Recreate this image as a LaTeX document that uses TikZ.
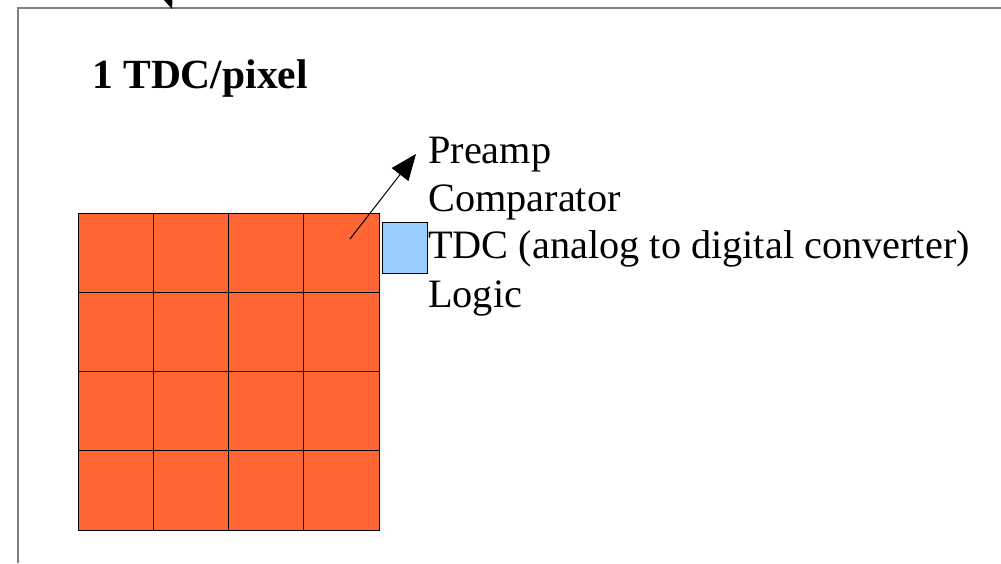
\documentclass[tikz,border=0pt]{standalone}
\usepackage{fontspec}
\setmainfont{Liberation Serif}
\usetikzlibrary{positioning, arrows.meta}
\definecolor{cellorange}{RGB}{255,102,51}
\definecolor{chipblue}{RGB}{153,204,255}
\definecolor{framegray}{RGB}{128,128,128}

\begin{document}
\begin{tikzpicture}[
        x=1pt, y=-1pt,
        cell/.style={draw=black, fill=cellorange, line width=1pt, inner sep=0pt, outer sep=0pt, minimum width=75.25pt, minimum height=79.25pt},
        chip/.style={draw=black, fill=chipblue, line width=1pt, inner sep=0pt, minimum width=45pt, minimum height=51pt},
        itemtext/.style={inner sep=0pt, anchor=base west, font=\fontsize{40.3}{48}\selectfont},
        arrow/.style={-{Triangle[length=26pt, width=21pt]}, line width=1pt}
    ]

    \useasboundingbox (0,0) rectangle (1001,563);
    \draw[framegray, line width=2pt] (18,563) -- (18,8) -- (1001,8);

    \node[inner sep=0pt, anchor=base west, font=\bfseries\fontsize{41.5}{48}\selectfont] (title) at (92,88) {1 TDC/pixel};

    % 4x4 pixel matrix
    \foreach \i in {1,...,4}
        \foreach \j in {1,...,4}
            \node[cell, anchor=north west] (c-\i-\j) at ({78+(\i-1)*75.25},{213+(\j-1)*79.25}) {};

    \node[chip, anchor=north west] (tdc) at (382,222) {};

    \node[itemtext] (preamp) at (428,163) {Preamp};
    \node[itemtext] (comp) at ([yshift=-48pt]preamp.base west) {Comparator};
    \node[itemtext] (conv) at ([yshift=-47pt]comp.base west) {TDC (analog to digital converter)};
    \node[itemtext] (logic) at ([yshift=-49pt]conv.base west) {Logic};

    \coordinate (tap) at (350,239);
    \coordinate (aim) at (416,154);
    \draw[arrow] (tap) -- (aim);

    \coordinate (offtop) at (137,-91);
    \coordinate (hit) at (172,9);
    \draw[arrow] (offtop) -- (hit);

\end{tikzpicture}
\end{document}
